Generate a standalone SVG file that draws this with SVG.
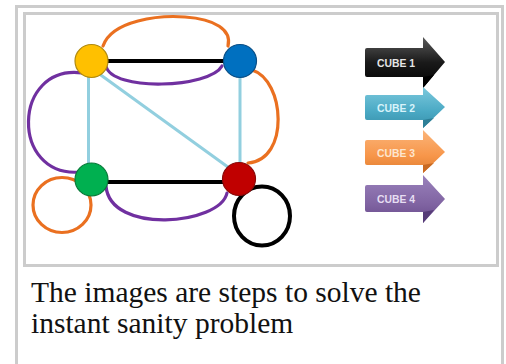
<svg xmlns="http://www.w3.org/2000/svg" width="506" height="364" viewBox="0 0 506 364">
<defs>
<style>
.frame{fill:none;stroke:#cccccc;stroke-width:3}
.node{stroke-width:1.2}
.e{fill:none;stroke-linecap:round}
.blk{stroke:#000;stroke-width:4}
.lb{stroke:#92cfdf;stroke-width:3}
.or{stroke:#ea7020;stroke-width:3.2}
.pu{stroke:#7030a0;stroke-width:3.2}
.lbl{font-family:"Liberation Sans",Arial,sans-serif;font-size:11px;font-weight:bold}
.cap{font-family:"Liberation Serif","Times New Roman",serif;font-size:29.5px;fill:#111}
</style>
<linearGradient id="g1" x1="0" y1="0" x2="0" y2="1"><stop offset="0" stop-color="#5a5a5a"/><stop offset="0.5" stop-color="#1a1a1a"/><stop offset="1" stop-color="#000"/></linearGradient>
<linearGradient id="g2" x1="0" y1="0" x2="0" y2="1"><stop offset="0" stop-color="#7cc9dd"/><stop offset="0.6" stop-color="#4aa9c4"/><stop offset="1" stop-color="#3790aa"/></linearGradient>
<linearGradient id="g3" x1="0" y1="0" x2="0" y2="1"><stop offset="0" stop-color="#fbb57a"/><stop offset="0.6" stop-color="#f7964a"/><stop offset="1" stop-color="#e07d30"/></linearGradient>
<linearGradient id="g4" x1="0" y1="0" x2="0" y2="1"><stop offset="0" stop-color="#9a82bc"/><stop offset="0.6" stop-color="#8064a2"/><stop offset="1" stop-color="#67498a"/></linearGradient>
</defs>
<rect width="506" height="364" fill="#fff"/>
<rect class="frame" x="16.5" y="6.5" width="486" height="370"/>
<rect class="frame" x="24.5" y="13.5" width="473" height="252"/>

<g id="connectors">
<line class="e lb" x1="88.5" y1="61" x2="88.5" y2="180"/>
<line class="e lb" x1="240" y1="61" x2="240" y2="180"/>
<line class="e lb" x1="98" y1="73" x2="232" y2="170"/>
<line class="e blk" x1="92" y1="61" x2="240" y2="61"/>
<line class="e blk" x1="92" y1="182" x2="239" y2="182"/>
<path class="e or" d="M103,46 C112,20 160,15 185,17 C215,19 232,30 228,46"/>
<path class="e pu" d="M106,66 C112,92 210,88 222,66"/>
<path class="e pu" d="M82,73 C12,64 10,178 80,172"/>
<path class="e or" d="M252,70 C285,80 290,160 248,163"/>
<path class="e pu" d="M106,186 C110,235 220,225 227,193"/>
<ellipse class="e or" cx="62" cy="205" rx="29" ry="27.5"/>
<ellipse class="e blk" cx="262" cy="216" rx="28" ry="29.5"/>
</g>

<g id="n-yellow"><circle class="node" cx="91.5" cy="61" r="16.5" fill="#ffc000" stroke="#b08a10"/></g>
<g id="n-blue"><circle class="node" cx="240" cy="61" r="16.5" fill="#0070c0" stroke="#0a4f86"/></g>
<g id="n-green"><circle class="node" cx="91.5" cy="179.5" r="16.5" fill="#00b050" stroke="#0a7a3a"/></g>
<g id="n-red"><circle class="node" cx="239" cy="179" r="16.5" fill="#c00000" stroke="#8a0a0a"/></g>

<g id="legend-cube1">
<path d="M367,48 H423 V37 L445,62 L423,88 V77 H367 Q365,77 365,75 V50 Q365,48 367,48 Z" fill="url(#g1)"/>
<path d="M423,77 L434,75 L423,88 Z" fill="#000"/>
<text class="lbl" x="377" y="67" fill="#e6e6e6" textLength="38" lengthAdjust="spacingAndGlyphs">CUBE 1</text>
</g>
<g id="legend-cube2">
<path d="M367,95 H423 V87 L445,107 L423,128 V120 H367 Q365,120 365,118 V97 Q365,95 367,95 Z" fill="url(#g2)"/>
<path d="M423,120 L434,118 L423,128 Z" fill="#2d7f97"/>
<text class="lbl" x="377" y="111.5" fill="#d8f3fa" textLength="38" lengthAdjust="spacingAndGlyphs">CUBE 2</text>
</g>
<g id="legend-cube3">
<path d="M367,140 H423 V130 L445,152 L423,173 V165 H367 Q365,165 365,163 V142 Q365,140 367,140 Z" fill="url(#g3)"/>
<path d="M423,165 L434,163 L423,173 Z" fill="#c96a22"/>
<text class="lbl" x="377" y="156.5" fill="#fde6cf" textLength="38" lengthAdjust="spacingAndGlyphs">CUBE 3</text>
</g>
<g id="legend-cube4">
<path d="M367,185 H423 V175 L445,199 L423,223 V212 H367 Q365,212 365,210 V187 Q365,185 367,185 Z" fill="url(#g4)"/>
<path d="M423,212 L434,210 L423,223 Z" fill="#563c78"/>
<text class="lbl" x="377" y="202.5" fill="#e6def2" textLength="38" lengthAdjust="spacingAndGlyphs">CUBE 4</text>
</g>

<g id="caption">
<text class="cap" x="31" y="302">The images are steps to solve the</text>
<text class="cap" x="31" y="333">instant sanity problem</text>
</g>
</svg>
